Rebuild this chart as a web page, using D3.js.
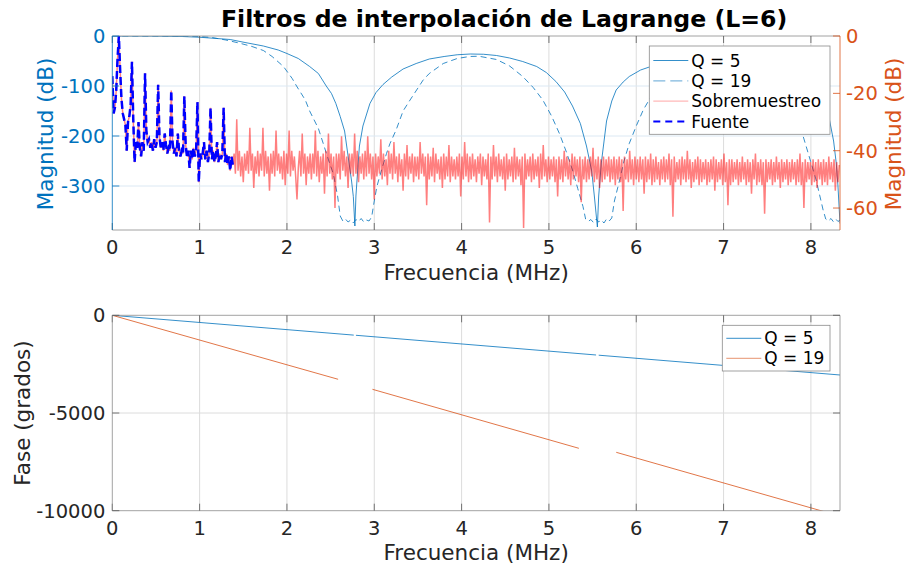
<!DOCTYPE html>
<html>
<head>
<meta charset="utf-8">
<script src="https://cdn.jsdelivr.net/npm/d3@7"></script>
<style>
  body { margin: 0; background: #fff; }
  svg { display: block; font-family: "DejaVu Sans", sans-serif; }
</style>
</head>
<body>
<svg id="fig" width="908" height="569"></svg>
<script>
// ---------------- data ----------------
const freqMax = 8.3333;                 // MHz, right edge of both plots
const xTicks = [0, 1, 2, 3, 4, 5, 6, 7, 8];
const magLeftTicks = [0, -100, -200, -300];
const magRightTicks = [0, -20, -40, -60];
const phaseTicks = [0, -5000, -10000];

// Lagrange filter magnitude (dB), Q = 5
const magQ5 = [
  [0,0],[0.5,-0.2],[0.8,-1],[1.0,-2.5],[1.2,-5],[1.35,-7],[1.52,-13],[1.73,-20],[1.9,-28],[2.0,-35],
  [2.13,-45],[2.26,-61],[2.36,-75],[2.45,-100],[2.51,-115],[2.56,-135],[2.61,-161],[2.66,-190],[2.70,-240],
  [2.74,-290],[2.76,-321],[2.778,-380],[2.79,-320],[2.81,-268],[2.83,-220],[2.87,-180],[2.95,-135],
  [3.02,-113],[3.10,-97],[3.2,-82],[3.33,-66],[3.48,-55],[3.63,-46],[3.8,-41],[3.95,-37.5],[4.1,-36],
  [4.25,-36.5],[4.4,-39],[4.55,-44],[4.7,-51],[4.86,-61],[4.97,-73],[5.08,-91],[5.18,-112],[5.27,-140],
  [5.36,-175],[5.43,-220],[5.49,-270],[5.52,-320],[5.555,-382],[5.57,-320],[5.6,-254],[5.66,-170],
  [5.72,-130],[5.77,-108],[5.85,-92],[5.92,-81],[6.05,-68],[6.15,-62],[6.3,-51],[6.45,-44],[6.6,-39.5],
  [6.75,-37],[6.9,-36],[7.05,-36.5],[7.2,-38.5],[7.35,-43],[7.5,-49],[7.65,-58],[7.8,-70],[7.92,-86],
  [8.02,-105],[8.1,-128],[8.16,-148],[8.21,-165],[8.26,-210],[8.29,-254],[8.31,-300],[8.3333,-375]
];

// Lagrange filter magnitude (dB), Q = 19
const magQ19 = [
  [0,0],[0.8,-0.2],[1.0,-1],[1.14,-3],[1.3,-8],[1.45,-14],[1.6,-21],[1.73,-29],[1.83,-41],[1.96,-61],
  [2.06,-85],[2.11,-100],[2.21,-128],[2.26,-150],[2.36,-185],[2.41,-212],[2.48,-250],[2.53,-275],
  [2.58,-320],[2.61,-360],[2.64,-370],[2.67,-366],[2.7,-372],[2.73,-368],[2.76,-374],[2.79,-367],
  [2.82,-371],[2.85,-365],[2.88,-372],[2.91,-368],[2.94,-370],[2.97,-362],[3.0,-330],[3.03,-301],
  [3.08,-270],[3.14,-235],[3.18,-215],[3.25,-188],[3.33,-150],[3.41,-128],[3.56,-88],[3.63,-75],
  [3.79,-55],[3.95,-45],[4.09,-41],[4.2,-40.5],[4.4,-47],[4.55,-60],[4.7,-81],[4.82,-103],[4.93,-128],
  [5.03,-160],[5.12,-195],[5.2,-232],[5.27,-268],[5.33,-305],[5.39,-341],[5.42,-366],[5.45,-371],
  [5.48,-367],[5.51,-373],[5.54,-366],[5.57,-372],[5.6,-368],[5.63,-374],[5.66,-366],[5.69,-370],
  [5.72,-364],[5.75,-330],[5.81,-288],[5.86,-250],[5.92,-215],[6.0,-180],[6.08,-148],[6.17,-121],
  [6.3,-92],[6.45,-66],[6.6,-52],[6.75,-44],[6.87,-41],[7.0,-41],[7.15,-46],[7.3,-57],[7.45,-74],
  [7.6,-98],[7.72,-125],[7.82,-160],[7.89,-188],[7.97,-235],[8.06,-288],[8.14,-348],[8.17,-366],
  [8.2,-370],[8.23,-365],[8.26,-372],[8.29,-367],[8.31,-371],[8.3333,-368]
];

// Spectrum bin spacing (MHz) shared by the source and oversampled spectra
const specStep = 0.015;

// Source spectrum (dB), bins 0 .. 1.38 MHz
const fuenteDb = [
  -14,-27,-25,-19,-8,0,-12,-22,-27,-29,
  -31,-40,-30,-28,-24,-9,-29,-44,-37,-39,
  -30,-39,-42,-37,-40,-13,-33,-37,-36,-39,
  -37,-40,-36,-39,-37,-17,-35,-39,-37,-40,
  -34,-38,-41,-39,-40,-19,-37,-41,-39,-42,
  -34,-40,-42,-40,-41,-21,-38,-42,-40,-46,
  -40,-43,-39,-42,-40,-23,-51,-41,-43,-41,
  -37,-43,-40,-44,-41,-25,-43,-40,-44,-42,
  -37,-44,-41,-43,-41,-25,-44,-41,-45,-42,
  -47,-42,-45
];

// Oversampled spectrum (dB) above the source band, bins 1.395 .. 8.325 MHz
const sobreDb = [
  -41,-48,-29,-47,-40,-49,-42,-51,-41,-47,
  -40,-48,-32,-47,-41,-53,-42,-48,-40,-49,
  -41,-47,-32,-49,-40,-48,-42,-54,-41,-48,
  -40,-49,-33,-47,-41,-48,-42,-50,-40,-52,
  -41,-48,-33,-49,-40,-47,-42,-49,-57,-46,
  -40,-49,-34,-48,-41,-52,-42,-48,-41,-50,
  -41,-48,-33,-49,-40,-51,-42,-48,-41,-55,
  -40,-49,-34,-48,-41,-50,-42,-60,-41,-48,
  -41,-50,-35,-47,-40,-49,-42,-53,-41,-48,
  -41,-49,-34,-48,-40,-51,-42,-48,-41,-50,
  -40,-49,-35,-48,-41,-50,-42,-57,-41,-49,
  -42,-48,-36,-50,-41,-49,-43,-52,-40,-48,
  -41,-50,-37,-48,-42,-51,-41,-49,-43,-54,
  -41,-49,-38,-50,-42,-48,-41,-51,-42,-49,
  -42,-50,-37,-48,-41,-49,-42,-59,-41,-50,
  -42,-49,-39,-51,-41,-48,-43,-50,-42,-53,
  -41,-50,-42,-49,-38,-51,-42,-49,-43,-50,
  -42,-49,-41,-56,-42,-50,-37,-49,-41,-51,
  -42,-50,-41,-49,-43,-51,-42,-48,-41,-52,
  -42,-49,-43,-50,-41,-65,-42,-50,-38,-49,
  -42,-51,-41,-49,-43,-50,-42,-54,-41,-50,
  -43,-49,-42,-51,-39,-50,-42,-49,-43,-52,
  -42,-67,-41,-50,-43,-49,-42,-51,-41,-50,
  -43,-49,-42,-53,-41,-50,-38,-49,-43,-51,
  -42,-50,-43,-49,-42,-51,-43,-56,-42,-50,
  -43,-51,-40,-49,-42,-50,-43,-52,-41,-50,
  -42,-49,-43,-51,-42,-58,-43,-50,-42,-51,
  -43,-50,-42,-49,-39,-51,-43,-50,-42,-53,
  -43,-51,-42,-50,-43,-49,-42,-51,-43,-50,
  -42,-52,-43,-50,-42,-51,-43,-61,-42,-50,
  -43,-51,-40,-50,-43,-52,-42,-50,-43,-51,
  -42,-50,-43,-55,-42,-51,-43,-50,-41,-52,
  -43,-51,-42,-50,-44,-52,-43,-50,-42,-51,
  -43,-50,-41,-52,-43,-63,-42,-51,-44,-50,
  -43,-52,-42,-50,-43,-51,-40,-50,-43,-53,
  -44,-51,-43,-50,-42,-52,-43,-51,-44,-50,
  -43,-52,-44,-51,-43,-50,-42,-54,-43,-51,
  -44,-50,-43,-52,-41,-51,-44,-59,-43,-52,
  -43,-51,-44,-50,-43,-52,-44,-51,-42,-50,
  -44,-52,-43,-51,-44,-55,-43,-50,-41,-52,
  -44,-51,-43,-52,-44,-62,-43,-51,-44,-50,
  -43,-52,-44,-51,-42,-50,-44,-53,-43,-51,
  -44,-50,-43,-52,-44,-51,-43,-50,-44,-52,
  -43,-51,-41,-52,-44,-60,-43,-51,-44,-50,
  -44,-52,-43,-51,-44,-53,-43,-50,-44,-52,
  -43,-51,-44,-52,-42,-50,-44,-51,-43,-54,
  -44,-51,-45
];

// Unwrapped phase (degrees); null marks a break in the curve
const phaseQ5 = [[0,0],[2.765,-1014],null,[2.79,-1023],[5.54,-2031],null,[5.57,-2042],[8.3333,-3055]];
const phaseQ19 = [[0,0],[2.586,-3275],null,[2.979,-3787],[5.343,-6807],null,[5.771,-7012],[8.3333,-10279]];

// ---------------- layout & style ----------------
const C = {
  blue: "#0072BD", orange: "#D95319", src: "#0000FF", over: "#FF0000",
  grid: "#dcdcdc", text: "#262626", frame: "#8a8a8a", tick: "#555"
};
const X0 = 112.3, X1 = 840;
const TOP = { y0: 36, y1: 230 };
const BOT = { y0: 315.3, y1: 510.7 };
const TICK_FS = 19.5, LABEL_FS = 21.5, TITLE_FS = 23.6, LEGEND_FS = 17;
const TICK_LEN = 7;

const svg = d3.select("#fig");
const x = d3.scaleLinear().domain([0, freqMax]).range([X0, X1]);
const yL = d3.scaleLinear().domain([-388, 0]).range([TOP.y1, TOP.y0]);
const yR = d3.scaleLinear().domain([-67.66, 0]).range([TOP.y1, TOP.y0]);
const yP = d3.scaleLinear().domain([-10000, 0]).range([BOT.y1, BOT.y0]);

const defs = svg.append("defs");
function clip(id, p) {
  defs.append("clipPath").attr("id", id).append("rect")
    .attr("x", X0).attr("y", p.y0).attr("width", X1 - X0).attr("height", p.y1 - p.y0);
}
clip("clipTop", TOP);
clip("clipBot", BOT);

// ---------- grids ----------
function vGrid(p) {
  svg.append("g").selectAll("line").data(xTicks.filter(t => t > 0)).join("line")
    .attr("x1", d => x(d)).attr("x2", d => x(d))
    .attr("y1", p.y0).attr("y2", p.y1)
    .attr("stroke", C.grid).attr("stroke-width", 1);
}
vGrid(TOP); vGrid(BOT);
svg.append("g").selectAll("line").data(magLeftTicks.filter(t => t < 0)).join("line")
  .attr("x1", X0).attr("x2", X1).attr("y1", d => yL(d)).attr("y2", d => yL(d))
  .attr("stroke", "#dbe8f3").attr("stroke-width", 1);
svg.append("g").selectAll("line").data(phaseTicks.filter(t => t < 0 && t > -10000)).join("line")
  .attr("x1", X0).attr("x2", X1).attr("y1", d => yP(d)).attr("y2", d => yP(d))
  .attr("stroke", C.grid).attr("stroke-width", 1);

// ---------- top plot curves ----------
const gTop = svg.append("g").attr("clip-path", "url(#clipTop)");
const lineL = d3.line().x(d => x(d[0])).y(d => yL(d[1]));
gTop.append("path").attr("d", lineL(magQ5)).attr("fill", "none")
  .attr("stroke", C.blue).attr("stroke-width", 0.8);
gTop.append("path").attr("d", lineL(magQ19)).attr("fill", "none")
  .attr("stroke", C.blue).attr("stroke-width", 0.8).attr("stroke-dasharray", "6,4");

const overSeries = fuenteDb.concat(sobreDb);
const lineSpec = d3.line().x((d, i) => x(i * specStep)).y(d => yR(d));
gTop.append("path").attr("d", lineSpec(overSeries)).attr("fill", "none")
  .attr("stroke", C.over).attr("stroke-opacity", 0.5).attr("stroke-width", 1.5)
  .attr("stroke-linejoin", "bevel");
gTop.append("path").attr("d", lineSpec(fuenteDb)).attr("fill", "none")
  .attr("stroke", C.src).attr("stroke-width", 2.5).attr("stroke-dasharray", "8,4");

// ---------- bottom plot curves ----------
const gBot = svg.append("g").attr("clip-path", "url(#clipBot)");
const lineP = d3.line().defined(d => d !== null).x(d => x(d[0])).y(d => yP(d[1]));
gBot.append("path").attr("d", lineP(phaseQ5)).attr("fill", "none")
  .attr("stroke", C.blue).attr("stroke-width", 0.8);
gBot.append("path").attr("d", lineP(phaseQ19)).attr("fill", "none")
  .attr("stroke", C.orange).attr("stroke-width", 0.8);

// ---------- axes ----------
function hLine(y, col) {
  svg.append("line").attr("x1", X0).attr("x2", X1).attr("y1", y).attr("y2", y)
    .attr("stroke", col).attr("stroke-width", 0.8);
}
function vLine(xx, p, col) {
  svg.append("line").attr("x1", xx).attr("x2", xx).attr("y1", p.y0).attr("y2", p.y1)
    .attr("stroke", col).attr("stroke-width", 0.8);
}
function xAxis(p) {
  hLine(p.y0, C.frame); hLine(p.y1, C.frame);
  const g = svg.append("g");
  g.selectAll("line.b").data(xTicks).join("line").attr("class", "b")
    .attr("x1", d => x(d)).attr("x2", d => x(d)).attr("y1", p.y1).attr("y2", p.y1 - TICK_LEN)
    .attr("stroke", C.tick).attr("stroke-width", 0.8);
  g.selectAll("line.t").data(xTicks).join("line").attr("class", "t")
    .attr("x1", d => x(d)).attr("x2", d => x(d)).attr("y1", p.y0).attr("y2", p.y0 + TICK_LEN)
    .attr("stroke", C.tick).attr("stroke-width", 0.8);
  g.selectAll("text").data(xTicks).join("text")
    .attr("x", d => x(d)).attr("y", p.y1 + 17).attr("dy", "0.36em")
    .attr("text-anchor", "middle").attr("font-size", TICK_FS).attr("fill", C.text)
    .text(d => d);
}
function yTicks(scale, ticks, side, col, labelCol) {
  const g = svg.append("g");
  const xx = side === "left" ? X0 : X1;
  const dir = side === "left" ? 1 : -1;
  g.selectAll("line").data(ticks).join("line")
    .attr("x1", xx).attr("x2", xx + dir * TICK_LEN)
    .attr("y1", d => scale(d)).attr("y2", d => scale(d))
    .attr("stroke", col).attr("stroke-width", 0.8);
  if (labelCol) {
    g.selectAll("text").data(ticks).join("text")
      .attr("x", side === "left" ? X0 - 7 : X1 + 6)
      .attr("y", d => scale(d)).attr("dy", "0.36em")
      .attr("text-anchor", side === "left" ? "end" : "start")
      .attr("font-size", TICK_FS).attr("fill", labelCol)
      .text(d => d);
  }
}

// top plot frame
xAxis(TOP);
vLine(X0, TOP, C.blue);
vLine(X1, TOP, C.orange);
yTicks(yL, magLeftTicks, "left", C.blue, C.blue);
yTicks(yR, magRightTicks, "right", C.orange, C.orange);

// bottom plot frame
xAxis(BOT);
vLine(X0, BOT, C.frame);
vLine(X1, BOT, C.frame);
yTicks(yP, phaseTicks, "left", C.tick, C.text);
yTicks(yP, phaseTicks, "right", C.tick, null);

// ---------- titles and labels ----------
svg.append("text").attr("x", 221).attr("y", 27)
  .attr("text-anchor", "start").attr("font-size", TITLE_FS).attr("font-weight", "bold")
  .attr("fill", "#000").text("Filtros de interpolación de Lagrange (L=6)");
svg.append("text").attr("x", (X0 + X1) / 2).attr("y", 280)
  .attr("text-anchor", "middle").attr("font-size", LABEL_FS).attr("fill", C.text)
  .text("Frecuencia (MHz)");
svg.append("text").attr("x", (X0 + X1) / 2).attr("y", 560)
  .attr("text-anchor", "middle").attr("font-size", LABEL_FS).attr("fill", C.text)
  .text("Frecuencia (MHz)");
function yLabel(xc, yc, txt, col) {
  svg.append("text").attr("transform", `translate(${xc},${yc}) rotate(-90)`)
    .attr("text-anchor", "middle").attr("dy", "0.36em")
    .attr("font-size", LABEL_FS).attr("fill", col).text(txt);
}
yLabel(45, 134, "Magnitud (dB)", C.blue);
yLabel(893, 134, "Magnitud (dB)", C.orange);
yLabel(22, 413, "Fase (grados)", C.text);

// ---------- legends ----------
function legend(box, items) {
  const g = svg.append("g");
  g.append("rect").attr("x", box.x).attr("y", box.y).attr("width", box.w).attr("height", box.h)
    .attr("fill", "#fff").attr("stroke", C.frame).attr("stroke-width", 0.8);
  items.forEach((it, i) => {
    const yy = box.y + box.first + i * box.step;
    g.append("line").attr("x1", box.x + 4).attr("x2", box.x + 39).attr("y1", yy).attr("y2", yy)
      .attr("stroke", it.color).attr("stroke-width", it.width)
      .attr("stroke-opacity", it.opacity || 1)
      .attr("stroke-dasharray", it.dash || null);
    g.append("text").attr("x", box.x + 42).attr("y", yy).attr("dy", "0.36em")
      .attr("font-size", LEGEND_FS).attr("fill", "#000").text(it.name);
  });
}
legend({ x: 649.3, y: 46, w: 180.7, h: 88.3, first: 14.5, step: 20.3 }, [
  { name: "Q = 5", color: C.blue, width: 0.8 },
  { name: "Q = 19", color: C.blue, width: 1.2, dash: "12,5", opacity: 0.5 },
  { name: "Sobremuestreo", color: C.over, width: 1, opacity: 0.35 },
  { name: "Fuente", color: C.src, width: 2, dash: "7,5" }
]);
legend({ x: 722.3, y: 325.3, w: 107.7, h: 45.7, first: 13, step: 20 }, [
  { name: "Q = 5", color: C.blue, width: 0.8 },
  { name: "Q = 19", color: C.orange, width: 1.2, opacity: 0.5 }
]);
</script>
</body>
</html>
